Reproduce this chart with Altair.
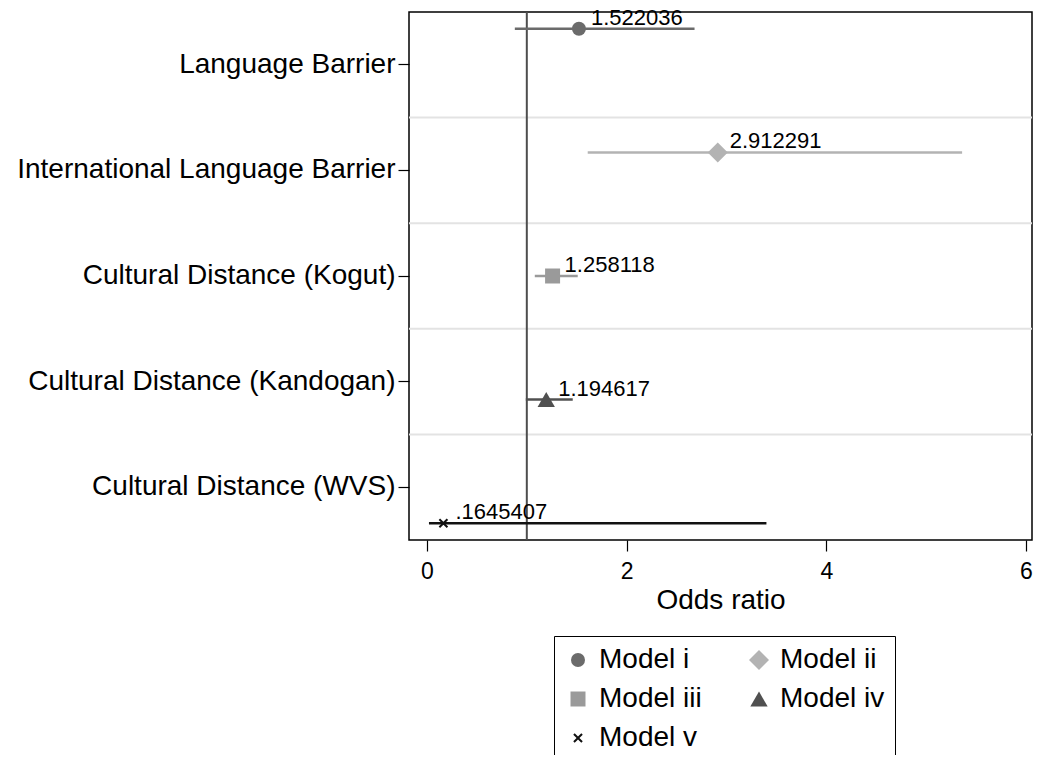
import altair as alt
import pandas as pd

categories = [
    "Language Barrier",
    "International Language Barrier",
    "Cultural Distance (Kogut)",
    "Cultural Distance (Kandogan)",
    "Cultural Distance (WVS)",
]
models = ["Model i", "Model ii", "Model iii", "Model iv", "Model v"]
estimates = [1.522036, 2.912291, 1.258118, 1.194617, 0.1645407]
ci_low = [0.88, 1.61, 1.08, 0.99, 0.02]
ci_high = [2.68, 5.36, 1.51, 1.46, 3.40]
est_labels = ["1.522036", "2.912291", "1.258118", "1.194617", ".1645407"]
ref_value = [1]

colors = ["#6b6b6b", "#b3b3b3", "#9a9a9a", "#505050", "#111111"]
x_path = "M-1,-0.7L-0.7,-1L0,-0.3L0.7,-1L1,-0.7L0.3,0L1,0.7L0.7,1L0,0.3L-0.7,1L-1,0.7L-0.3,0Z"
shapes = ["circle", "diamond", "square", "triangle-up", x_path]
sizes = [196, 400, 225, 300, 90]

df = pd.DataFrame({
    "cat": categories,
    "model": models,
    "est": estimates,
    "lo": ci_low,
    "hi": ci_high,
    "lab": est_labels,
})
grid_df = pd.DataFrame({"cat": categories[1:]})
ref_df = pd.DataFrame({"ref": ref_value})

FONT = "Liberation Sans"
x_scale = alt.Scale(domain=[-0.18, 6.06], nice=False, zero=False)
y_sort = categories
yoff_scale = alt.Scale(domain=models, paddingInner=0, paddingOuter=0.43)

y_axis = alt.Axis(
    title=None, grid=False, domain=False, tickSize=11, tickColor="black",
    labelFontSize=28, labelFont=FONT, labelColor="black", labelPadding=3,
    labelLimit=1000, tickWidth=1.2,
)
x_axis = alt.Axis(
    title="Odds ratio", values=[0, 2, 4, 6], format="d", grid=False, domain=False,
    tickSize=11, tickColor="black", tickWidth=1.2, labelFontSize=23, labelFont=FONT,
    labelColor="black", labelPadding=9, titleFontSize=28, titleFont=FONT,
    titleFontWeight="normal", titleColor="black", titlePadding=3,
)

grid = alt.Chart(grid_df).mark_rule(color="#e3e3e3", strokeWidth=2).encode(
    y=alt.Y("cat:N", sort=y_sort, bandPosition=0, axis=y_axis,
            scale=alt.Scale(paddingInner=0, paddingOuter=0)),
)

ref = alt.Chart(ref_df).mark_rule(color="#4d4d4d", strokeWidth=2).encode(
    x=alt.X("ref:Q", scale=x_scale, axis=x_axis),
)

ci = alt.Chart(df).mark_rule(strokeWidth=2.5).encode(
    x=alt.X("lo:Q", scale=x_scale, axis=x_axis),
    x2="hi:Q",
    y=alt.Y("cat:N", sort=y_sort, axis=y_axis),
    yOffset=alt.YOffset("model:N", scale=yoff_scale),
    stroke=alt.Stroke("model:N", scale=alt.Scale(range=colors), legend=None),
)

pts = alt.Chart(df).mark_point(filled=True, opacity=1).encode(
    x=alt.X("est:Q", scale=x_scale, axis=x_axis),
    y=alt.Y("cat:N", sort=y_sort, axis=y_axis),
    yOffset=alt.YOffset("model:N", scale=yoff_scale),
    color=alt.Color("model:N", scale=alt.Scale(domain=models, range=colors), legend=alt.Legend(title=None)),
    shape=alt.Shape("model:N", scale=alt.Scale(domain=models, range=shapes), legend=alt.Legend(title=None)),
    size=alt.Size("model:N", scale=alt.Scale(type="ordinal", domain=models, range=sizes), legend=alt.Legend(title=None)),
)

txt = alt.Chart(df).mark_text(
    align="left", baseline="alphabetic", dx=12, dy=-4, fontSize=22, font=FONT, color="black"
).encode(
    x=alt.X("est:Q", scale=x_scale, axis=x_axis),
    y=alt.Y("cat:N", sort=y_sort, axis=y_axis),
    yOffset=alt.YOffset("model:N", scale=yoff_scale),
    text="lab:N",
)

chart = alt.layer(grid, ref, ci, pts, txt).properties(
    width=623, height=528,
    autosize=alt.AutoSizeParams(type="none"),
    padding={"left": 401, "top": 4, "right": 9, "bottom": 215},
).configure(
    background="white",
).configure_view(
    stroke="black", strokeWidth=1.5
).configure_legend(
    orient="none", legendX=145, legendY=624, columns=2, direction="horizontal",
    strokeColor="black", fillColor="white", padding=10,
    labelFontSize=28, labelFont=FONT, labelColor="black",
    columnPadding=43, rowPadding=11, labelOffset=7,
)

chart.save("out.html", embed_options={"renderer": "svg", "actions": False})
